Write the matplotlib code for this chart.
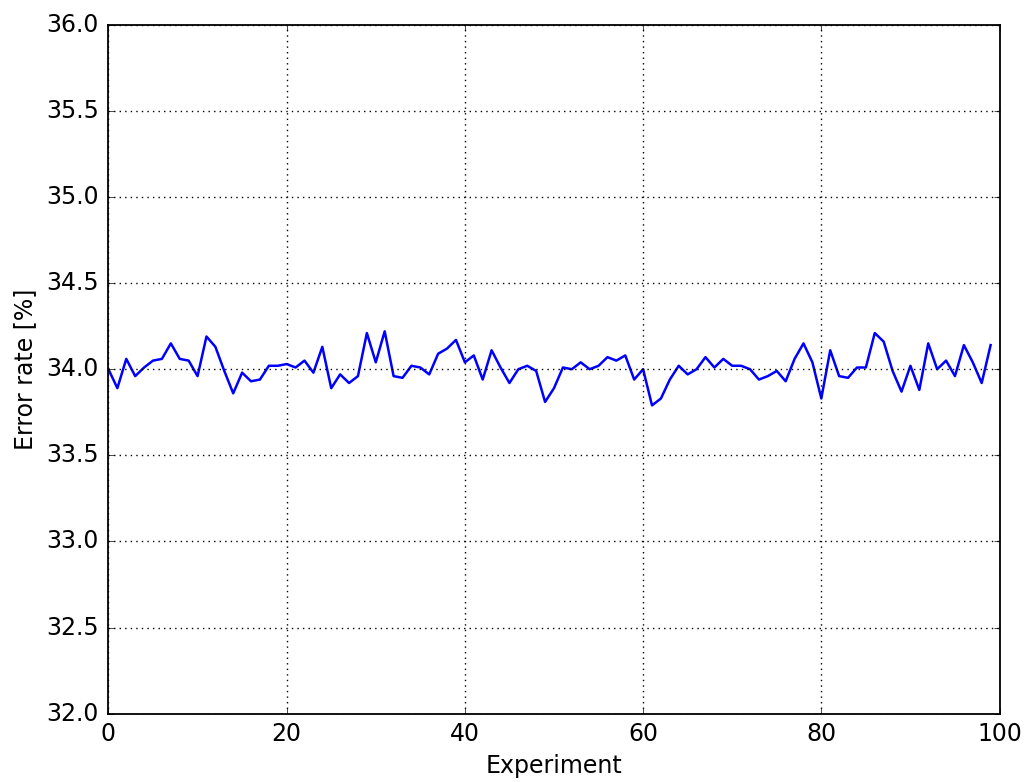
import matplotlib
matplotlib.use("Agg")
import matplotlib.pyplot as plt
import numpy as np

plt.style.use('classic')

# Error rate per experiment
experiments = np.arange(100)
error_rate = [
    34.00, 33.89, 34.06, 33.96, 34.01, 34.05, 34.06, 34.15, 34.06, 34.05,
    33.96, 34.19, 34.13, 33.99, 33.86, 33.98, 33.93, 33.94, 34.02, 34.02,
    34.03, 34.01, 34.05, 33.98, 34.13, 33.89, 33.97, 33.92, 33.96, 34.21,
    34.04, 34.22, 33.96, 33.95, 34.02, 34.01, 33.97, 34.09, 34.12, 34.17,
    34.04, 34.08, 33.94, 34.11, 34.01, 33.92, 34.00, 34.02, 33.99, 33.81,
    33.89, 34.01, 34.00, 34.04, 34.00, 34.02, 34.07, 34.05, 34.08, 33.94,
    34.00, 33.79, 33.83, 33.94, 34.02, 33.97, 34.00, 34.07, 34.01, 34.06,
    34.02, 34.02, 34.00, 33.94, 33.96, 33.99, 33.93, 34.06, 34.15, 34.04,
    33.83, 34.11, 33.96, 33.95, 34.01, 34.01, 34.21, 34.16, 33.99, 33.87,
    34.02, 33.88, 34.15, 34.00, 34.05, 33.96, 34.14, 34.04, 33.92, 34.14,
]

fig = plt.figure(figsize=(10.28, 7.82), dpi=100, facecolor='white')
ax = fig.add_axes([0.1055, 0.0873, 0.8668, 0.8811])
ax.plot(experiments, error_rate, color='b', linewidth=1.8)
ax.set_xlim(0, 100)
ax.set_ylim(32.0, 36.0)
ax.set_yticks(np.arange(32.0, 36.01, 0.5))
ax.grid(True, color='black', linestyle=':', linewidth=1.0)
for sp in ax.spines.values():
    sp.set_linewidth(1.3)
ax.set_xlabel('Experiment', fontsize=17, labelpad=6)
ax.set_ylabel('Error rate [%]', fontsize=17, labelpad=6)
ax.tick_params(axis='x', labelsize=17, pad=6)
ax.tick_params(axis='y', labelsize=17, pad=7)
fig.savefig('out.png', dpi=100, facecolor='white')
